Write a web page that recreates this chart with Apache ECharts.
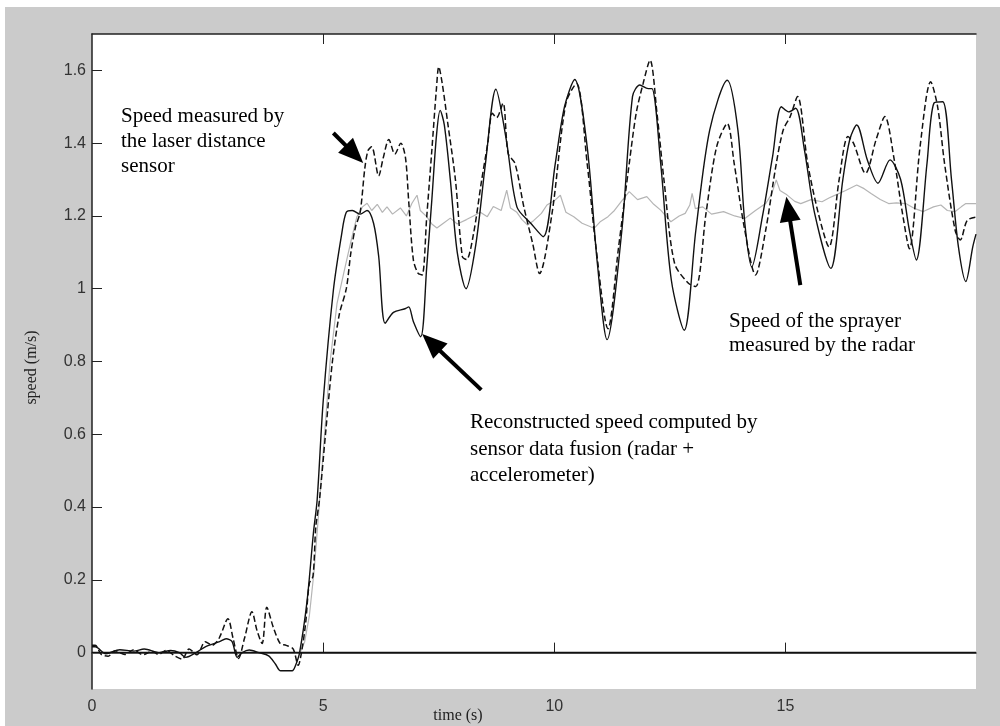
<!DOCTYPE html>
<html>
<head>
    <meta charset="utf-8">
    <title>speed (m/s) vs time (s)</title>
    <script src="https://cdn.jsdelivr.net/npm/echarts@6/dist/echarts.min.js"></script>
    <style>
        html, body { margin: 0; padding: 0; background: #fff; }
        #main { width: 1000px; height: 726px; }
    </style>
</head>
<body>
<div id="main"></div>
<script type="text/javascript">
// [time (s), speed (m/s)]

// solid line: reconstructed speed (radar + accelerometer fusion)
var fusedSpeed = [
    [0,0.016],[0.07,0.016],[0.3,-0.003],[0.6,0.008],[0.9,0.004],[1.13,0.01],[1.46,0],[1.7,0.006],
    [1.89,0],[2.03,-0.013],[2.25,0],[2.45,0.016],[2.76,0.03],[2.9,0.038],[3.03,0.03],[3.14,-0.013],
    [3.25,0],[3.4,0.007],[3.61,0],[3.82,-0.009],[3.97,-0.032],[4.08,-0.05],[4.33,-0.05],[4.4,-0.036],
    [4.49,0],[4.65,0.14],[4.79,0.33],[4.87,0.42],[5.0,0.69],[5.22,0.995],[5.4,1.15],[5.5,1.21],
    [5.63,1.215],[5.8,1.205],[5.95,1.215],[6.09,1.18],[6.2,1.09],[6.34,0.905],[6.52,0.935],[6.77,0.945],
    [6.85,0.95],[6.95,0.91],[7.11,0.868],[7.24,1.06],[7.35,1.244],[7.45,1.42],[7.53,1.49],[7.62,1.45],
    [7.75,1.3],[7.9,1.1],[8.09,1.0],[8.3,1.12],[8.51,1.344],[8.735,1.548],[8.96,1.41],[9.19,1.225],
    [9.49,1.18],[9.76,1.143],[10.02,1.344],[10.22,1.5],[10.44,1.575],[10.71,1.39],[10.93,1.07],[11.14,0.86],
    [11.46,1.16],[11.69,1.528],[11.85,1.56],[12.03,1.55],[12.11,1.55],[12.3,1.344],[12.53,1.024],[12.81,0.886],
    [13.06,1.16],[13.36,1.436],[13.74,1.573],[13.97,1.436],[14.12,1.18],[14.27,1.06],[14.5,1.198],[14.72,1.363],
    [14.91,1.5],[15.07,1.486],[15.22,1.496],[15.41,1.381],[15.63,1.207],[15.98,1.056],[16.24,1.3],[16.39,1.41],
    [16.54,1.45],[16.77,1.354],[17.0,1.29],[17.26,1.354],[17.49,1.3],[17.68,1.16],[17.83,1.079],[18.06,1.344],
    [18.21,1.51],[18.4,1.514],[18.59,1.3],[18.74,1.115],[18.9,1.02],[19.05,1.115],[19.12,1.15]
];

// dashed line: laser distance sensor
var laserSpeed = [
    [0,0.02],[0.07,0.02],[0.2,-0.005],[0.35,-0.01],[0.5,0.005],[0.71,-0.005],[0.9,0.008],[1.1,-0.006],
    [1.3,0.004],[1.44,-0.005],[1.6,0.006],[1.8,-0.01],[1.95,-0.018],[2.1,0.01],[2.27,-0.006],[2.45,0.03],
    [2.6,0.02],[2.75,0.04],[2.94,0.093],[3.05,0.04],[3.17,-0.016],[3.3,0.04],[3.46,0.112],[3.57,0.06],
    [3.68,0.025],[3.78,0.125],[3.92,0.07],[4.07,0.025],[4.2,0.02],[4.35,0.01],[4.46,-0.035],[4.53,0],
    [4.62,0.08],[4.7,0.19],[4.78,0.21],[4.84,0.345],[4.92,0.42],[5.05,0.6],[5.2,0.8],[5.35,0.93],
    [5.5,1.0],[5.6,1.1],[5.7,1.17],[5.8,1.21],[5.9,1.33],[5.97,1.38],[6.05,1.39],[6.2,1.31],
    [6.3,1.36],[6.42,1.41],[6.55,1.37],[6.68,1.4],[6.78,1.36],[6.85,1.24],[6.95,1.08],[7.05,1.043],
    [7.14,1.038],[7.24,1.198],[7.35,1.38],[7.45,1.55],[7.5,1.61],[7.58,1.56],[7.7,1.45],[7.86,1.3],
    [8.01,1.088],[8.1,1.08],[8.25,1.15],[8.43,1.3],[8.56,1.4],[8.66,1.482],[8.75,1.47],[8.89,1.51],
    [9.0,1.372],[9.15,1.344],[9.34,1.225],[9.53,1.125],[9.68,1.042],[9.95,1.207],[10.25,1.51],[10.48,1.564],
    [10.71,1.344],[10.9,1.115],[11.16,0.89],[11.39,1.115],[11.62,1.344],[11.77,1.482],[11.92,1.564],[12.07,1.628],
    [12.22,1.482],[12.37,1.3],[12.6,1.07],[12.9,1.015],[13.06,1.006],[13.28,1.207],[13.51,1.39],[13.74,1.454],
    [13.89,1.344],[14.12,1.16],[14.35,1.038],[14.57,1.16],[14.8,1.344],[14.95,1.436],[15.1,1.473],[15.26,1.528],
    [15.48,1.344],[15.71,1.207],[15.94,1.115],[16.16,1.3],[16.35,1.418],[16.47,1.4],[16.73,1.317],[16.96,1.41],
    [17.15,1.473],[17.34,1.363],[17.53,1.207],[17.68,1.11],[17.91,1.39],[18.14,1.569],[18.29,1.5],[18.44,1.344],
    [18.67,1.16],[18.78,1.134],[18.93,1.188],[19.12,1.197]
];

// light grey line: radar speed of the sprayer
var radarSpeed = [
    [0,0],[4.5,0],[4.6,0.03],[4.7,0.1],[4.8,0.22],[4.9,0.38],[5.0,0.55],[5.15,0.8],
    [5.3,0.96],[5.44,1.04],[5.6,1.13],[5.73,1.198],[5.85,1.225],[5.95,1.235],[6.05,1.215],[6.17,1.232],
    [6.28,1.21],[6.38,1.225],[6.5,1.205],[6.67,1.222],[6.8,1.2],[6.92,1.235],[7.03,1.257],[7.1,1.215],
    [7.24,1.198],[7.35,1.178],[7.46,1.167],[7.6,1.18],[7.75,1.194],[7.9,1.178],[8.1,1.19],[8.25,1.2],
    [8.4,1.21],[8.55,1.198],[8.68,1.226],[8.85,1.215],[8.97,1.271],[9.05,1.222],[9.19,1.21],[9.3,1.19],
    [9.42,1.175],[9.55,1.187],[9.72,1.207],[9.84,1.23],[10.02,1.244],[10.13,1.257],[10.25,1.21],[10.42,1.198],
    [10.6,1.18],[10.86,1.166],[11.0,1.185],[11.16,1.198],[11.3,1.215],[11.45,1.24],[11.62,1.267],[11.8,1.245],
    [12.0,1.253],[12.15,1.232],[12.3,1.216],[12.52,1.184],[12.7,1.2],[12.83,1.207],[12.93,1.23],[12.98,1.262],
    [13.05,1.22],[13.21,1.225],[13.4,1.205],[13.66,1.212],[13.9,1.2],[14.12,1.193],[14.35,1.215],[14.57,1.234],
    [14.7,1.26],[14.8,1.299],[14.88,1.27],[15.03,1.258],[15.2,1.24],[15.33,1.234],[15.55,1.245],[15.79,1.239],
    [15.95,1.25],[16.09,1.258],[16.3,1.27],[16.54,1.285],[16.7,1.275],[16.85,1.262],[17.05,1.245],[17.23,1.234],
    [17.4,1.236],[17.6,1.234],[17.8,1.22],[17.98,1.212],[18.2,1.225],[18.36,1.23],[18.5,1.215],[18.67,1.212],
    [18.8,1.225],[18.9,1.234],[19.12,1.234]
];

var xTicks = [5, 10, 15];
var xLabels = [0, 5, 10, 15];
var yTicks = [0, 0.2, 0.4, 0.6, 0.8, 1, 1.2, 1.4, 1.6];

// annotation arrows, [tail, head] in data coordinates
var arrows = [
    [[5.22, 1.428], [5.675, 1.37]],
    [[8.42, 0.722], [7.338, 0.852]],
    [[15.32, 1.01], [15.06, 1.219]]
];

var myChart = echarts.init(document.getElementById('main'), null, {renderer: 'canvas'});

var serif = '"Liberation Serif", "DejaVu Serif", serif';
var sans = '"Liberation Sans", Arial, sans-serif';

function noteText(x, y, str, size) {
    return {
        type: 'text', left: x, top: y, z: 100,
        style: {text: str, font: 'normal ' + size + 'px ' + serif, fill: '#000', textVerticalAlign: 'middle'}
    };
}

myChart.setOption({
    animation: false,
    backgroundColor: '#fff',
    graphic: [
        {type: 'rect', shape: {x: 5, y: 7, width: 995, height: 719}, style: {fill: '#cbcbcb'}, z: -10, silent: true},
        noteText(121, 106, 'Speed measured by', 21),
        noteText(121, 131, 'the laser distance', 21),
        noteText(121, 156, 'sensor', 21),
        noteText(729, 311, 'Speed of the sprayer', 21),
        noteText(729, 335, 'measured by the radar', 21),
        noteText(470, 412, 'Reconstructed speed computed by', 21),
        noteText(470, 439, 'sensor data fusion (radar +', 21),
        noteText(470, 465, 'accelerometer)', 21),
        // x axis title sits left of centre in the original
        {
            type: 'text', x: 458, y: 716, z: 100,
            style: {text: 'time (s)', font: 'normal 16px ' + serif, fill: '#222', textAlign: 'center', textVerticalAlign: 'middle'}
        }
    ],
    grid: {
        left: 92, top: 34, right: 24, bottom: 37,
        show: true, backgroundColor: '#fff', borderWidth: 0
    },
    xAxis: [{
        type: 'value', min: 0, max: 19.12,
        axisLine: {show: true, lineStyle: {color: '#222', width: 1.5}},
        axisTick: {show: true, inside: true, length: 10, customValues: xTicks, lineStyle: {color: '#222'}},
        axisLabel: {customValues: xLabels, fontFamily: sans, fontSize: 16, color: '#333', margin: 10},
        splitLine: {show: false}
    }, {
        type: 'value', min: 0, max: 19.12, position: 'top',
        axisLine: {show: true, lineStyle: {color: '#222', width: 1.5}},
        axisTick: {show: true, inside: true, length: 10, customValues: xTicks, lineStyle: {color: '#222'}},
        axisLabel: {show: false},
        splitLine: {show: false}
    }],
    yAxis: {
        type: 'value', min: -0.1, max: 1.7,
        name: 'speed (m/s)', nameLocation: 'middle', nameGap: 52, nameRotate: 90,
        nameTextStyle: {fontFamily: serif, fontSize: 16, color: '#222', padding: [0, 0, 0, -12]},
        axisLine: {show: true, lineStyle: {color: '#222', width: 1.5}},
        axisTick: {show: true, inside: true, length: 10, customValues: yTicks, lineStyle: {color: '#222'}},
        axisLabel: {
            customValues: yTicks, fontFamily: sans, fontSize: 16, color: '#333', margin: 6,
            formatter: function (v) { return String(+v.toFixed(1)); }
        },
        splitLine: {show: false}
    },
    series: [{
        name: 'radar', type: 'line', data: radarSpeed, showSymbol: false,
        lineStyle: {color: '#b5b5b5', width: 1.2}, z: 2,
        markLine: {
            silent: true, symbol: ['none', 'triangle'], symbolSize: [21, 25],
            label: {show: false},
            lineStyle: {color: '#000', width: 4, type: 'solid'},
            data: arrows.map(function (a) {
                return [{coord: a[0]}, {coord: a[1]}];
            })
        }
    }, {
        name: 'fused', type: 'line', data: fusedSpeed, showSymbol: false, smooth: 0.3,
        lineStyle: {color: '#111', width: 1.4}, z: 4,
        markLine: {
            silent: true, symbol: ['none', 'none'], label: {show: false},
            lineStyle: {color: '#111', width: 1.4, type: 'solid'},
            data: [{yAxis: 0}]
        }
    }, {
        name: 'laser', type: 'line', data: laserSpeed, showSymbol: false, smooth: 0.3,
        lineStyle: {color: '#111', width: 1.5, type: [6, 3]}, z: 3
    }]
});
</script>
</body>
</html>
